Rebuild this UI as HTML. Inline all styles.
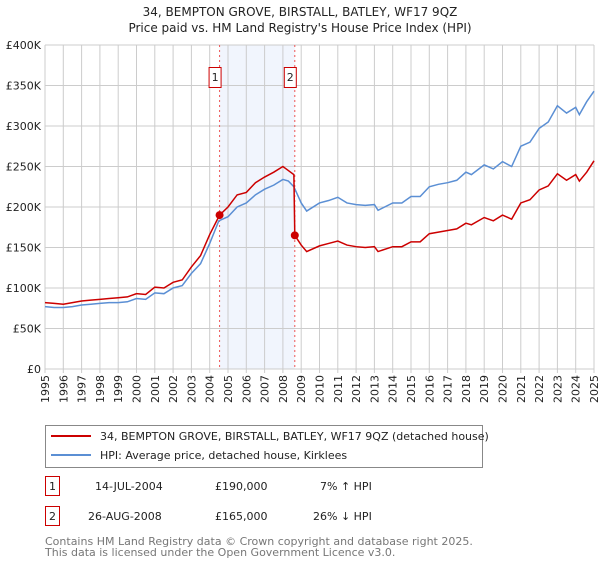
<!DOCTYPE html>
<html><head><meta charset="utf-8"><style>
body{margin:0;background:#fff;font-family:"DejaVu Sans","Liberation Sans",sans-serif;}
svg text{font-family:"DejaVu Sans","Liberation Sans",sans-serif;}
</style></head><body>
<svg id="c" width="600" height="560" xmlns="http://www.w3.org/2000/svg">
<text x="300" y="16" text-anchor="middle" font-size="12" fill="#222">34, BEMPTON GROVE, BIRSTALL, BATLEY, WF17 9QZ</text>
<text x="300" y="32" text-anchor="middle" font-size="12" fill="#222">Price paid vs. HM Land Registry's House Price Index (HPI)</text>
<g id="grid"></g><g id="marks"></g><g id="axes"></g>
<g>
<rect x="45.5" y="425.5" width="437" height="42" fill="#fff" stroke="#888"/>
<line x1="51" y1="436" x2="91" y2="436" stroke="#cc0000" stroke-width="2"/>
<text x="100" y="440" font-size="11" fill="#222">34, BEMPTON GROVE, BIRSTALL, BATLEY, WF17 9QZ (detached house)</text>
<line x1="51" y1="455" x2="91" y2="455" stroke="#5b8fd4" stroke-width="2"/>
<text x="100" y="459" font-size="11" fill="#222">HPI: Average price, detached house, Kirklees</text>
</g>
<g font-size="11" fill="#222">
<rect x="45.5" y="476.5" width="14" height="19" fill="#fff" stroke="#cc0000"/>
<text x="52.5" y="490" text-anchor="middle">1</text>
<text x="95" y="490">14-JUL-2004</text><text x="215" y="490">£190,000</text><text x="320" y="490">7% ↑ HPI</text>
<rect x="45.5" y="506.5" width="14" height="19" fill="#fff" stroke="#cc0000"/>
<text x="52.5" y="520" text-anchor="middle">2</text>
<text x="88" y="520">26-AUG-2008</text><text x="215" y="520">£165,000</text><text x="313" y="520">26% ↓ HPI</text>
</g>
<text x="45" y="545" font-size="11" fill="#777">Contains HM Land Registry data © Crown copyright and database right 2025.</text>
<text x="45" y="556" font-size="11" fill="#777">This data is licensed under the Open Government Licence v3.0.</text>
</svg>
<script>
const hpiYears=[1995,1995.5,1996,1996.5,1997,1997.5,1998,1998.5,1999,1999.5,2000,2000.5,2001,2001.5,2002,2002.5,2003,2003.5,2004,2004.5,2005,2005.5,2006,2006.5,2007,2007.5,2008,2008.3,2008.6,2009,2009.3,2010,2010.5,2011,2011.5,2012,2012.5,2013,2013.2,2014,2014.5,2015,2015.5,2016,2016.5,2017,2017.5,2018,2018.3,2019,2019.5,2020,2020.5,2021,2021.5,2022,2022.5,2023,2023.5,2024,2024.2,2024.6,2025];
const hpiValues=[77,76,76,77,79,80,81,82,82,83,87,86,94,93,100,103,118,130,155,183,188,200,205,215,222,227,234,232,225,205,195,205,208,212,205,203,202,203,196,205,205,213,213,225,228,230,233,243,240,252,247,256,250,275,280,297,305,325,316,323,314,330,343];
const priceYears=[1995,1995.5,1996,1996.5,1997,1997.5,1998,1998.5,1999,1999.5,2000,2000.5,2001,2001.5,2002,2002.5,2003,2003.5,2004,2004.54,2005,2005.5,2006,2006.5,2007,2007.5,2008,2008.3,2008.6,2008.65,2009,2009.3,2010,2010.5,2011,2011.5,2012,2012.5,2013,2013.2,2014,2014.5,2015,2015.5,2016,2016.5,2017,2017.5,2018,2018.3,2019,2019.5,2020,2020.5,2021,2021.5,2022,2022.5,2023,2023.5,2024,2024.2,2024.6,2025];
const priceValues=[82,81,80,82,84,85,86,87,88,89,93,92,101,100,107,110,126,140,166,190,200,215,218,230,237,243,250,245,240,165,153,145,152,155,158,153,151,150,151,145,151,151,157,157,167,169,171,173,180,178,187,183,190,185,205,209,221,226,241,233,240,232,243,257];
const sales=[{n:'1',year:2004.54,value:190},{n:'2',year:2008.65,value:165}];
const yTicks=[0,50,100,150,200,250,300,350,400];
const yTickLabels=['£0','£50K','£100K','£150K','£200K','£250K','£300K','£350K','£400K'];
const xTicks=[1995,1996,1997,1998,1999,2000,2001,2002,2003,2004,2005,2006,2007,2008,2009,2010,2011,2012,2013,2014,2015,2016,2017,2018,2019,2020,2021,2022,2023,2024,2025];

const L=45,R=594,T=45,B=369;
const x=v=>L+(v-1995)/(2025-1995)*(R-L);
const y=v=>B-v/400*(B-T);
const NS='http://www.w3.org/2000/svg';
function mk(tag,attrs,parent){const e=document.createElementNS(NS,tag);for(const k in attrs)e.setAttribute(k,attrs[k]);parent.appendChild(e);return e;}
const grid=document.getElementById('grid'),marks=document.getElementById('marks'),axes=document.getElementById('axes');
// shaded band
const band=mk('rect',{x:x(sales[0].year),y:T,width:x(sales[1].year)-x(sales[0].year),height:B-T,fill:'#eef3fc',opacity:0.8},grid);


yTicks.forEach((t,i)=>{
  const ln=mk('line',{x1:L,x2:R,y1:y(t),y2:y(t),stroke:'#ccc','stroke-width':1},grid);
  
  
  const tx=mk('text',{x:L-4,y:y(t)+4,'text-anchor':'end','font-size':11,fill:'#222'},axes);
  tx.textContent=yTickLabels[i];
  
  
});
xTicks.forEach(t=>{
  const ln=mk('line',{x1:x(t),x2:x(t),y1:T,y2:B+4,stroke:'#ccc','stroke-width':1},grid);
  
  
  const tx=mk('text',{x:0,y:0,'text-anchor':'end','font-size':11,fill:'#222',transform:`translate(${x(t)+4},${B+6}) rotate(-90)`},axes);
  tx.textContent=t;
  
  
});
sales.forEach(s=>{
  const ln=mk('line',{x1:x(s.year),x2:x(s.year),y1:T,y2:B,stroke:'#e55','stroke-width':1,'stroke-dasharray':'2,3'},grid);
  
  
  const g=mk('g',{},axes);
  
  
  mk('rect',{x:x(s.year)-10.5,y:67.5,width:12,height:20,fill:'#fff',stroke:'#cc0000'},g);
  const tx=mk('text',{x:x(s.year)-4.5,y:81,'text-anchor':'middle','font-size':11,fill:'#222'},g);
  tx.textContent=s.n;
});
const hp=mk('polyline',{points:hpiYears.map((v,i)=>x(v)+','+y(hpiValues[i])).join(' '),fill:'none',stroke:'#5b8fd4','stroke-width':1.5},marks);


const pp=mk('polyline',{points:priceYears.map((v,i)=>x(v)+','+y(priceValues[i])).join(' '),fill:'none',stroke:'#cc0000','stroke-width':1.5},marks);


sales.forEach(s=>{
  const c=mk('circle',{cx:x(s.year),cy:y(s.value),r:4,fill:'#cc0000'},marks);
  
  
});
const ax=mk('line',{x1:L,x2:R,y1:B,y2:B,stroke:'#ccc'},axes);


</script>
</body></html>
